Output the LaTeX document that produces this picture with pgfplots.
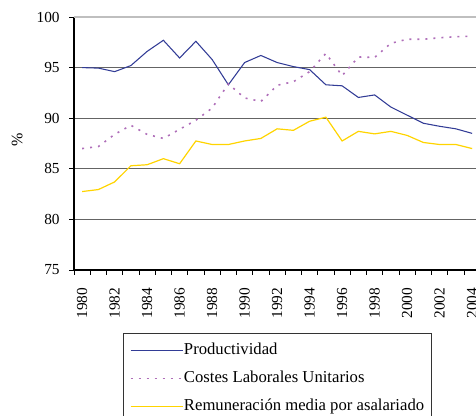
\documentclass[border=0pt]{standalone}
\usepackage{pgfplots}
\pgfplotsset{compat=1.18}
\usepackage{fontspec}
\setmainfont{Liberation Serif}
\definecolor{prodblue}{RGB}{50,60,150}
\definecolor{costpurple}{RGB}{175,110,185}
\definecolor{remyellow}{RGB}{255,212,0}
\definecolor{gridgray}{RGB}{100,100,100}
\begin{document}
\begin{tikzpicture}
\begin{axis}[
  name=ax,
  scale only axis,
  width=304.69pt, height=189.75pt,
  xmin=1979.5, xmax=2004.5,
  ymin=75, ymax=100,
  axis lines=left,
  axis line style={-, black, line width=0.8pt},
  xtick={1980,1982,...,2004},
  minor xtick={1979.5,1980.5,...,2004.5},
  ytick={75,80,85,90,95},
  extra y ticks={100},
  extra y tick style={major grid style={color=gray!50, line width=1pt}},
  ymajorgrids,
  major grid style={gridgray, line width=1pt},
  tick align=outside,
  major tick length=3.75pt,
  minor tick length=3.75pt,
  every major x tick/.append style={draw=none},
  every minor x tick/.append style={black, line width=0.6pt},
  every major y tick/.append style={black, line width=0.6pt},
  tick label style={font=\fontsize{11.5}{13}\selectfont},
  /pgf/number format/assume math mode=true,
  /pgf/number format/1000 sep={},
  xticklabel style={rotate=90, anchor=east},
  xticklabel shift=6pt,
  yticklabel shift=3.5pt,
  ylabel={\%},
  ylabel style={at={(axis description cs:-0.14,0.514)}, anchor=center, font=\fontsize{12}{14}\selectfont},
  legend style={at={(axis description cs:0.1206,-0.249)}, anchor=north west,
    draw=black!80, line width=0.6pt, inner xsep=4.75pt, inner ysep=5.75pt,
    row sep=7pt, column sep=0pt,
    nodes={inner sep=0.5pt, text height=9.5pt, text depth=3.5pt},
    font=\fontsize{12.5}{14}\selectfont},
  legend cell align=left,
  legend image code/.code={\draw[#1] (0pt,0pt) -- (39pt,0pt);},
]
\addplot[prodblue, line width=0.8pt, mark=none] coordinates {
(1980,95.0) (1981,94.95) (1982,94.6) (1983,95.2) (1984,96.6) (1985,97.7)
(1986,95.95) (1987,97.6) (1988,95.8) (1989,93.3) (1990,95.5) (1991,96.2)
(1992,95.5) (1993,95.1) (1994,94.8) (1995,93.3) (1996,93.2) (1997,92.05)
(1998,92.3) (1999,91.1) (2000,90.3) (2001,89.5) (2002,89.2) (2003,88.95) (2004,88.5)};
\addlegendentry{Productividad}
\addplot[costpurple, line width=1.2pt, dash pattern=on 1.5pt off 4.5pt, mark=none] coordinates {
(1980,87.0) (1981,87.2) (1982,88.4) (1983,89.3) (1984,88.4) (1985,88.0)
(1986,88.9) (1987,89.8) (1988,91.0) (1989,93.4) (1990,92.0) (1991,91.65)
(1992,93.25) (1993,93.6) (1994,94.6) (1995,96.4) (1996,94.2) (1997,96.05)
(1998,96.0) (1999,97.4) (2000,97.8) (2001,97.8) (2002,97.95) (2003,98.05) (2004,98.1)};
\addlegendentry{Costes Laborales Unitarios}
\addplot[remyellow, line width=0.9pt, mark=none] coordinates {
(1980,82.75) (1981,82.95) (1982,83.7) (1983,85.3) (1984,85.4) (1985,86.0)
(1986,85.5) (1987,87.75) (1988,87.4) (1989,87.4) (1990,87.75) (1991,88.0)
(1992,88.95) (1993,88.8) (1994,89.7) (1995,90.1) (1996,87.75) (1997,88.7)
(1998,88.45) (1999,88.7) (2000,88.3) (2001,87.6) (2002,87.4) (2003,87.4) (2004,87.0)};
\addlegendentry{Remuneración media por asalariado}
\end{axis}
\pgfresetboundingbox
\path[use as bounding box] ([xshift=-55.5pt,yshift=-109.5pt]ax.south west) rectangle ([xshift=301.5pt,yshift=202.5pt]ax.south west);
\end{tikzpicture}
\end{document}
